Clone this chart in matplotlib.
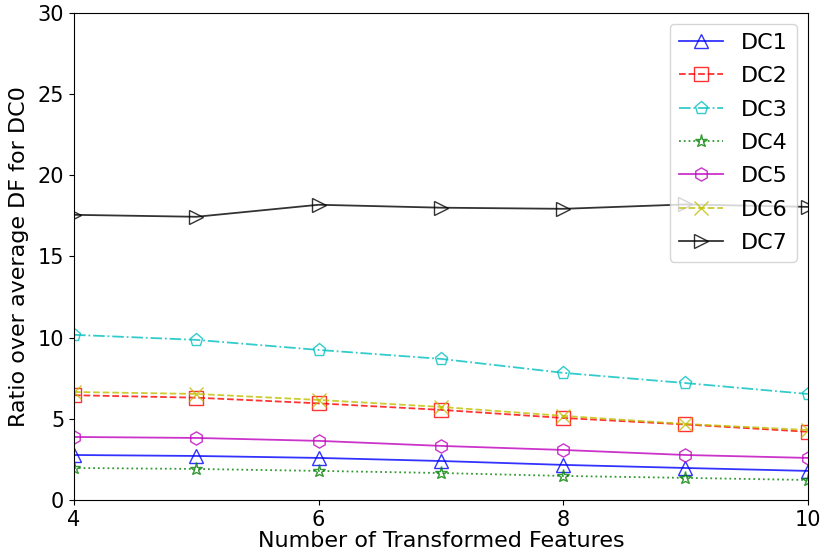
import matplotlib
matplotlib.use("Agg")
import matplotlib.pyplot as plt

features = [4, 5, 6, 7, 8, 9, 10]
dc1 = [2.77, 2.71, 2.59, 2.40, 2.16, 1.97, 1.79]
dc2 = [6.45, 6.30, 5.95, 5.55, 5.05, 4.65, 4.20]
dc3 = [10.17, 9.86, 9.24, 8.69, 7.83, 7.20, 6.53]
dc4 = [1.97, 1.91, 1.79, 1.66, 1.48, 1.36, 1.23]
dc5 = [3.88, 3.82, 3.64, 3.33, 3.08, 2.77, 2.59]
dc6 = [6.65, 6.53, 6.16, 5.73, 5.18, 4.68, 4.31]
dc7 = [17.56, 17.44, 18.18, 18.00, 17.93, 18.20, 18.05]

labels = ["DC1", "DC2", "DC3", "DC4", "DC5", "DC6", "DC7"]
x_ticks = [4, 6, 8, 10]
y_ticks = [0, 5, 10, 15, 20, 25, 30]

styles = [
    ("b", "-", "^"),
    ("r", "--", "s"),
    ("c", "-.", "p"),
    ("g", ":", "*"),
    ("m", "-", "h"),
    ("y", "--", "x"),
    ("k", "-", ">"),
]

fig = plt.figure(figsize=(8.25, 5.58), dpi=100)
ax = fig.add_axes([0.0897, 0.104, 0.8893, 0.873])

for vals, lab, (c, ls, mk) in zip([dc1, dc2, dc3, dc4, dc5, dc6, dc7], labels, styles):
    ax.plot(features, vals, color=c, linestyle=ls, marker=mk, markersize=9.5,
            markerfacecolor="none", markeredgecolor=c, linewidth=1.3,
            alpha=0.8, label=lab)

ax.set_xlim(4, 10)
ax.set_ylim(0, 30)
ax.set_xticks(x_ticks)
ax.set_yticks(y_ticks)
ax.tick_params(labelsize=15)
ax.set_xlabel("Number of Transformed Features", fontsize=16, labelpad=1)
ax.set_ylabel("Ratio over average DF for DC0", fontsize=16, labelpad=6)
ax.legend(loc="upper right", fontsize=16, borderaxespad=0.5, labelspacing=0.6)

fig.savefig("out.png", dpi=100)
